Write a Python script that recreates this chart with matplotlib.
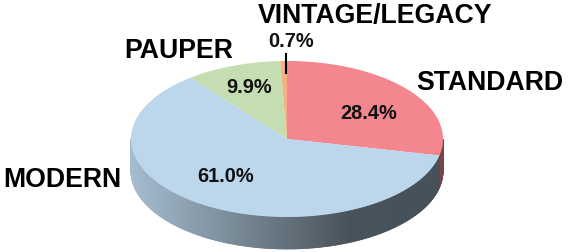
import numpy as np
import matplotlib
matplotlib.use("Agg")
import matplotlib.pyplot as plt
from matplotlib.patches import Polygon
from matplotlib.colors import to_rgb

# Datos del gráfico
formats = ["STANDARD", "MODERN", "PAUPER", "VINTAGE/LEGACY"]
shares = [28.4, 61.0, 9.9, 0.7]
colors = ["#f4868f", "#bcd6eb", "#c5deb1", "#f4b183"]

# posiciones de las etiquetas (pixeles)
name_pos = [(416.5, 90.5, "left"), (3.5, 187, "left"), (178.5, 57.5, "center"), (375, 23.3, "center")]
pct_pos = [(368.5, 119), (225.7, 181.7), (248.8, 92.7), (291, 46.7)]

plt.rcParams["font.family"] = ["Liberation Sans", "DejaVu Sans"]

fig = plt.figure(figsize=(5.72, 2.52), dpi=100)
ax = fig.add_axes([0, 0, 1, 1])
ax.set_xlim(0, 572)
ax.set_ylim(252, 0)
ax.axis("off")

# geometría del pastel 3D
cx, cy, rx, ry, depth = 287, 139, 156, 78, 32


def pt(theta):
    # angulo en grados, sentido horario desde arriba
    t = np.radians(theta)
    return cx + rx * np.sin(t), cy - ry * np.cos(t)


def shade(x):
    u = (x - cx) / rx
    return np.clip(0.88 - (u + 1) * 0.36, 0.38, 0.88)


fr = np.array(shares) / sum(shares)
edges = np.concatenate([[0], np.cumsum(fr)]) * 360

# lado (solo la parte frontal, 90 a 270 grados)
for i in range(len(shares)):
    a0 = max(edges[i], 90)
    a1 = min(edges[i + 1], 270)
    if a1 <= a0:
        continue
    base = np.array(to_rgb(colors[i]))
    steps = np.arange(a0, a1, 0.5)
    steps = np.append(steps, a1)
    for s0, s1 in zip(steps[:-1], steps[1:]):
        x0, y0 = pt(s0)
        x1, y1 = pt(s1)
        c = base * shade((x0 + x1) / 2)
        if i == 0:
            c = base * 0.5
        poly = Polygon([(x0, y0), (x1, y1), (x1, y1 + depth), (x0, y0 + depth)],
                       closed=True, facecolor=c, edgecolor=c, lw=0.6)
        ax.add_patch(poly)

# cara superior
for i in range(len(shares)):
    th = np.linspace(edges[i], edges[i + 1], max(4, int((edges[i + 1] - edges[i]) * 2)))
    xs, ys = pt(th)
    verts = [(cx, cy)] + list(zip(xs, ys))
    ax.add_patch(Polygon(verts, closed=True, facecolor=colors[i], edgecolor="none"))

# etiquetas
for name, (x, y, ha) in zip(formats, name_pos):
    ax.text(x, y, name, fontsize=19.2, fontweight="bold", ha=ha, va="baseline", color="black")

for v, (x, y) in zip(shares, pct_pos):
    ax.text(x, y, f"{v:.1f}%", fontsize=14.4, fontweight="bold", ha="center", va="baseline",
            color="#111111")

# linea guia para 0.7%
ax.plot([285.7, 285.7], [53.5, 73], color="black", lw=1.5)

fig.savefig("out.png", dpi=100)
